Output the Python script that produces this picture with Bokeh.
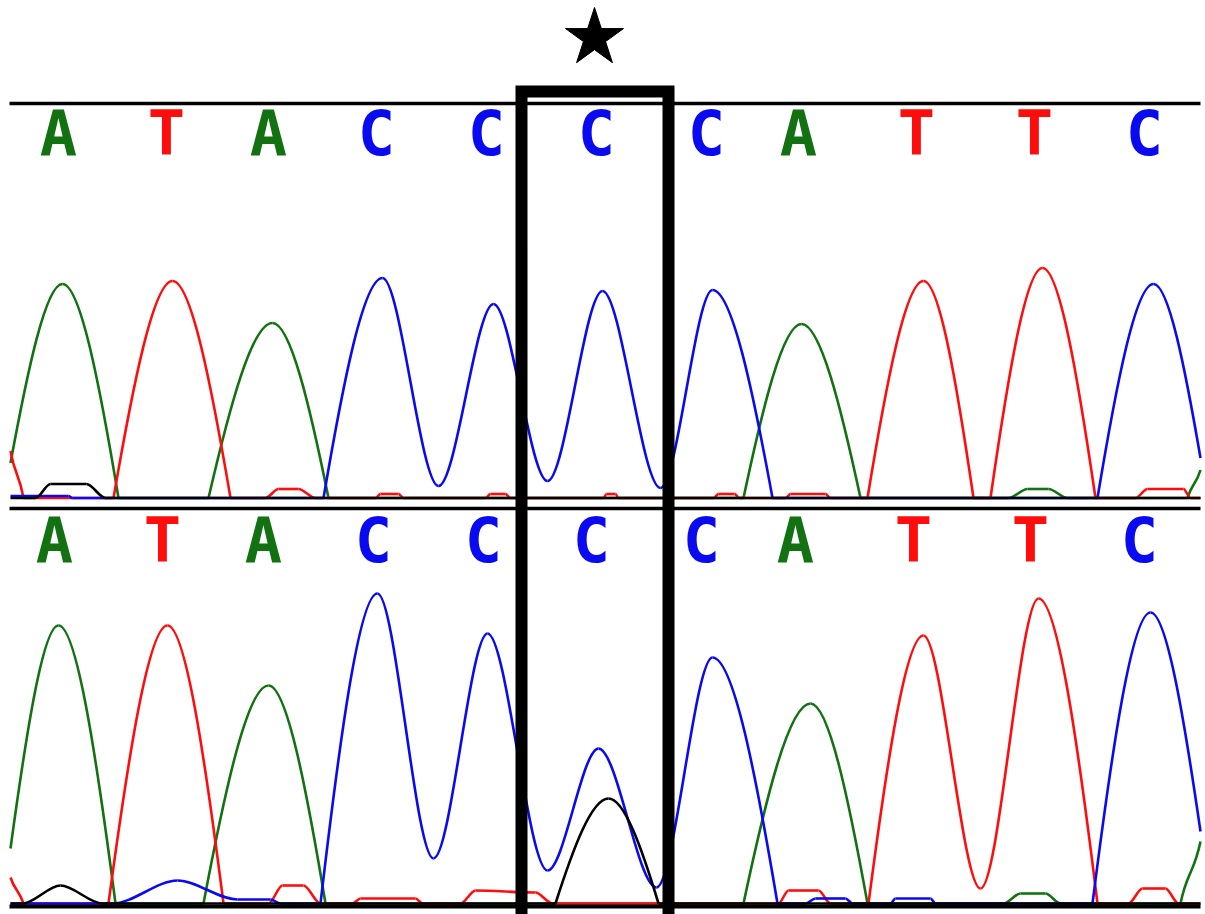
from bokeh.plotting import figure
from bokeh.models import Range1d, ColumnDataSource
from bokeh.embed import file_html
from bokeh.resources import INLINE
from bokeh.core.properties import value

# ---------------- data ----------------
# base calls
BASES = list("ATACCCCATTC")
TOP_BASE_X = [58, 166, 268, 376, 486, 596, 706, 798, 916, 1034, 1144]
BOT_BASE_X = [54, 162, 263, 373, 483, 591, 701, 795, 913, 1030, 1139]

# trace key points: (scan position, signal, kind)  kind 'x' = extremum / flat, 'f' = foot / slope
TOP_GREEN = [(10, 35, 'f'), (62, 214, 'x'), (118, 0, 'f'), (208, 0, 'f'), (272, 175, 'x'), (328, 0, 'f'),
             (743, 0, 'f'), (801, 174, 'x'), (860, 0, 'f'), (1008, 0, 'x'), (1027, 9, 'x'), (1048, 9, 'x'),
             (1067, 0, 'x'), (1187, 0, 'f'), (1200, 28, 'f')]
TOP_RED = [(10, 47, 'f'), (23, 0, 'f'), (113, 0, 'f'), (172, 217, 'x'), (230, 0, 'f'), (265, 0, 'x'),
           (278, 9, 'x'), (298, 9, 'x'), (315, 0, 'x'), (375, 0, 'x'), (380, 4, 'x'), (398, 4, 'x'),
           (403, 0, 'x'), (485, 0, 'x'), (490, 4, 'x'), (505, 4, 'x'), (510, 0, 'x'), (603, 0, 'x'),
           (606, 4, 'x'), (615, 4, 'x'), (618, 0, 'x'), (713, 0, 'x'), (718, 4, 'x'), (734, 4, 'x'),
           (739, 0, 'x'), (785, 0, 'x'), (790, 4, 'x'), (825, 4, 'x'), (830, 0, 'x'), (867, 0, 'f'),
           (923, 217, 'x'), (973, 0, 'f'), (990, 0, 'f'), (1042, 230, 'x'), (1095, 0, 'f'), (1135, 0, 'x'),
           (1147, 9, 'x'), (1183, 9, 'x'), (1190, 0, 'x'), (1200, 0, 'x')]
TOP_BLUE = [(10, 2, 'x'), (68, 2, 'x'), (72, 0, 'x'), (323, 0, 'f'), (382, 220, 'x'), (438, 12, 'x'),
            (493, 194, 'x'), (547, 17, 'x'), (602, 207, 'x'), (660, 10, 'x'), (712, 208, 'x'), (772, 0, 'f'),
            (1097, 0, 'f'), (1153, 214, 'x'), (1200, 40, 'f')]
TOP_BLACK = [(10, 0, 'x'), (35, 0, 'x'), (50, 14, 'x'), (86, 14, 'x'), (105, 0, 'x'), (1200, 0, 'x')]

BOT_GREEN = [(10, 55, 'f'), (58, 278, 'x'), (115, 0, 'f'), (203, 0, 'f'), (268, 218, 'x'), (325, 0, 'f'),
             (743, 0, 'f'), (810, 200, 'x'), (867, 0, 'f'), (1003, 0, 'x'), (1020, 10, 'x'), (1045, 10, 'x'),
             (1060, 0, 'x'), (1180, 0, 'f'), (1200, 62, 'f')]
BOT_RED = [(10, 26, 'f'), (23, 0, 'f'), (108, 0, 'f'), (167, 278, 'x'), (223, 0, 'f'), (268, 0, 'x'),
           (282, 18, 'x'), (303, 18, 'x'), (320, 0, 'x'), (352, 0, 'x'), (360, 5, 'x'), (415, 5, 'x'),
           (422, 0, 'x'), (460, 0, 'x'), (475, 13, 'x'), (535, 11, 'x'), (552, 0, 'x'), (778, 0, 'x'),
           (788, 13, 'x'), (818, 13, 'x'), (830, 0, 'x'), (868, 0, 'f'), (923, 268, 'x'), (980, 15, 'x'),
           (1038, 305, 'x'), (1097, 0, 'f'), (1128, 0, 'x'), (1142, 15, 'x'), (1165, 15, 'x'),
           (1178, 0, 'x'), (1200, 0, 'x')]
BOT_BLUE = [(10, 0, 'x'), (112, 0, 'x'), (177, 23, 'x'), (237, 4, 'x'), (270, 4, 'x'), (280, 0, 'x'),
            (320, 0, 'f'), (377, 310, 'x'), (433, 45, 'x'), (487, 270, 'x'), (547, 33, 'x'), (598, 155, 'x'),
            (656, 16, 'x'), (712, 246, 'x'), (777, 0, 'f'), (805, 0, 'x'), (815, 5, 'x'), (845, 5, 'x'),
            (852, 0, 'x'), (890, 0, 'x'), (895, 5, 'x'), (930, 5, 'x'), (935, 0, 'x'), (1092, 0, 'f'),
            (1150, 291, 'x'), (1200, 72, 'f')]
BOT_BLACK = [(10, 0, 'x'), (22, 0, 'x'), (60, 18, 'x'), (102, 0, 'x'), (555, 0, 'f'), (608, 105, 'x'),
             (658, 0, 'f'), (1200, 0, 'x')]

# ---------------- style ----------------
COL = {"A": "#127212", "T": "#ff0d0d", "C": "#0a0af0", "K": "#000000"}

W, H = 1205, 914
TOP_BASE, BOT_BASE = 497.5, 903.0  # zero-signal levels of the two panels

p = figure(width=W, height=H, x_range=Range1d(0, W), y_range=Range1d(H, 0),
           output_backend="svg", toolbar_location=None, min_border=0,
           x_axis_location=None, y_axis_location=None)
p.extra_y_ranges = {"top": Range1d(TOP_BASE - H, TOP_BASE),
                    "bot": Range1d(BOT_BASE - H, BOT_BASE)}
p.grid.visible = False
p.outline_line_color = None
p.background_fill_color = "white"
p.border_fill_color = "white"


def bez(pts):
    d = dict(x0=[], y0=[], x1=[], y1=[], cx0=[], cy0=[], cx1=[], cy1=[])
    for (xa, ya, ka), (xb, yb, kb) in zip(pts[:-1], pts[1:]):
        dx, dy = xb - xa, yb - ya
        if ka == 'x':
            c0 = (xa + 0.32 * dx, ya)
        else:
            c0 = (xa + 0.33 * dx, ya + 0.52 * dy)
        if kb == 'x':
            c1 = (xb - 0.32 * dx, yb)
        else:
            c1 = (xb - 0.33 * dx, yb - 0.52 * dy)
        d["x0"].append(xa); d["y0"].append(ya); d["x1"].append(xb); d["y1"].append(yb)
        d["cx0"].append(c0[0]); d["cy0"].append(c0[1]); d["cx1"].append(c1[0]); d["cy1"].append(c1[1])
    return ColumnDataSource(d)


for rng, traces in (("top", [(TOP_GREEN, "A"), (TOP_RED, "T"), (TOP_BLUE, "C"), (TOP_BLACK, "K")]),
                    ("bot", [(BOT_GREEN, "A"), (BOT_RED, "T"), (BOT_BLUE, "C"), (BOT_BLACK, "K")])):
    for pts, b in traces:
        p.bezier(x0="x0", y0="y0", x1="x1", y1="y1", cx0="cx0", cy0="cy0", cx1="cx1", cy1="cy1",
                 source=bez(pts), line_color=COL[b], line_width=2.6, y_range_name=rng)

# frame lines
p.segment(x0=[9, 9, 9], y0=[103, 508, 906], x1=[1200, 1200, 1200], y1=[103, 508, 906],
          line_color="black", line_width=[3.5, 3.5, 4])

# base letters
for xs, ym in ((TOP_BASE_X, 132.5), (BOT_BASE_X, 540)):
    p.text(x=xs, y=[ym] * len(xs), text=BASES, text_color=[COL[b] for b in BASES],
           text_font=value("DejaVu Sans Mono"), text_font_style="bold", text_font_size="62px",
           text_align="center", text_baseline="middle")

# highlighted position box and star
p.quad(left=[521], right=[668], top=[91], bottom=[930], fill_color=None, line_color="black",
       line_width=12, line_join="miter")
p.scatter(x=[594], y=[37.5], marker="star", size=61, fill_color="black", line_color="black")

open("out.html", "w").write(file_html(p, INLINE))
